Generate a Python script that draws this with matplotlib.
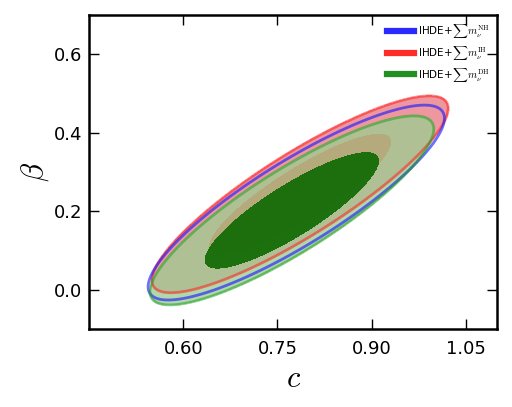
import numpy as np
import matplotlib
matplotlib.use("Agg")
import matplotlib.pyplot as plt
from matplotlib.lines import Line2D

# ---- data ----
series = ["NH", "IH", "DH"]
labels = [r"IHDE+$\sum m_{\nu}^{\rm NH}$", r"IHDE+$\sum m_{\nu}^{\rm IH}$", r"IHDE+$\sum m_{\nu}^{\rm DH}$"]
mean_c = [0.780, 0.786, 0.773]
mean_beta = [0.222, 0.243, 0.202]
sigma_c = [0.095, 0.095, 0.091]
sigma_beta = [0.100, 0.101, 0.097]
rho = [0.865, 0.872, 0.860]
line_colors = ["#2020ff", "#ff2020", "#22a022"]
legend_colors = ["#2a2aff", "#ff2a2a", "#229022"]
xticks = [0.60, 0.75, 0.90, 1.05]
yticks = [0.0, 0.2, 0.4, 0.6]

CHI2_1S = 2.30
CHI2_2S = 6.17

plt.rcParams["mathtext.fontset"] = "cm"
plt.rcParams["font.family"] = ["DejaVu Sans"]

fig = plt.figure(figsize=(5.12, 4.07), dpi=100)
ax = fig.add_axes([0.174, 0.192, 0.797, 0.771])

cg = np.linspace(0.40, 1.15, 500)
bg = np.linspace(-0.20, 0.80, 500)
C, B = np.meshgrid(cg, bg)

def chi2(i):
    dx = (C - mean_c[i]) / sigma_c[i]
    dy = (B - mean_beta[i]) / sigma_beta[i]
    r = rho[i]
    return (dx**2 - 2 * r * dx * dy + dy**2) / (1 - r**2)

X = [chi2(i) for i in range(3)]
iNH, iIH, iDH = 0, 1, 2

# 2-sigma fills
ax.contourf(C, B, X[iIH], levels=[0, CHI2_2S], colors=["#e0303f"], alpha=0.5)
ax.contourf(C, B, X[iDH], levels=[0, CHI2_2S], colors=["#9ccc92"], alpha=0.78)
# 1-sigma fills
ax.contourf(C, B, X[iIH], levels=[0, CHI2_1S], colors=["#c08a58"], alpha=0.4)
ax.contourf(C, B, X[iDH], levels=[0, CHI2_1S], colors=["#0c6800"], alpha=0.9)
# 2-sigma outlines
ax.contour(C, B, X[iIH], levels=[CHI2_2S], colors=[line_colors[iIH]], linewidths=2, alpha=0.55)
ax.contour(C, B, X[iNH], levels=[CHI2_2S], colors=[line_colors[iNH]], linewidths=2, alpha=0.65)
ax.contour(C, B, X[iDH], levels=[CHI2_2S], colors=[line_colors[iDH]], linewidths=2, alpha=0.55)

ax.set_xlim(0.45, 1.10)
ax.set_ylim(-0.10, 0.70)
ax.set_xticks(xticks)
ax.set_xticklabels(["%.2f" % t for t in xticks])
ax.set_yticks(yticks)
ax.set_yticklabels(["%.1f" % t for t in yticks])
ax.tick_params(direction="in", top=True, right=True, labelsize=13, length=7, width=1)
ax.tick_params(axis="x", pad=8)
ax.tick_params(axis="y", pad=5)
for s in ax.spines.values():
    s.set_linewidth(1.8)

ax.set_xlabel(r"$c$", fontsize=22, labelpad=4)
ax.set_ylabel(r"$\beta$", fontsize=22, labelpad=2)

handles = [Line2D([0], [0], color=col, lw=4.5) for col in legend_colors]
ax.legend(handles, labels, loc="upper right", frameon=False, fontsize=7.5,
          handlelength=2.6, handletextpad=0.4, labelspacing=0.35,
          borderaxespad=0.3, bbox_to_anchor=(1.0, 1.0))

fig.savefig("out.png", dpi=100)
